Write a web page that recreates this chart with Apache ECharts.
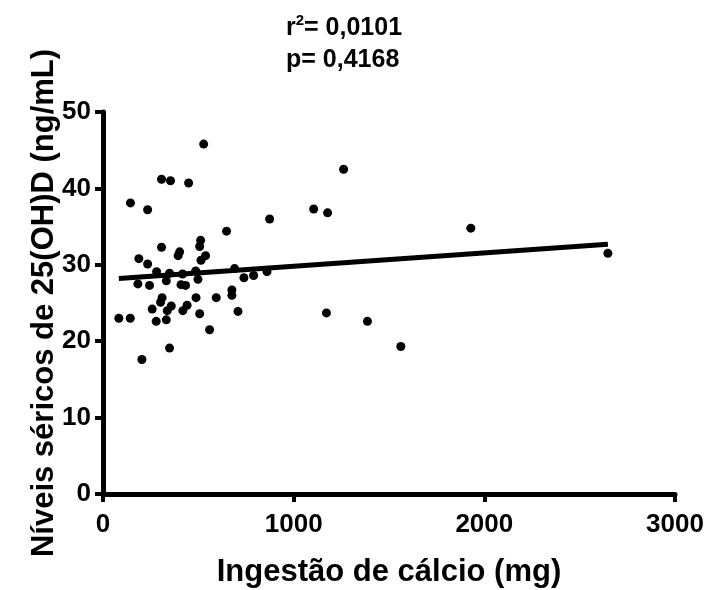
<!DOCTYPE html>
<html>
<head>
<meta charset="utf-8">
<script src="https://cdn.jsdelivr.net/npm/echarts@6/dist/echarts.min.js"></script>
<style>
html,body{margin:0;padding:0;background:#fff;}
#chart{width:710px;height:590px;}
</style>
</head>
<body>
<div id="chart"></div>
<script>
// Calcium intake (mg) and serum 25(OH)D (ng/mL)
const calcium = [528, 307, 354, 449, 144, 234, 874, 648, 1262, 1105, 1178, 1929, 2648,
  307, 402, 394, 512, 507, 538, 514, 188, 234, 281, 349, 417, 486, 690,
  183, 244, 332, 409, 433, 498, 739, 790, 860, 676, 676, 310, 302, 358, 258, 337,
  441, 419, 488, 594, 507, 708, 83, 143, 279, 332, 559, 349, 204, 1172, 1387, 1562];
const vitaminD = [45.8, 41.2, 41.0, 40.7, 38.1, 37.2, 36.0, 34.4, 42.5, 37.3, 36.8, 34.8, 31.5,
  32.3, 31.7, 31.2, 33.2, 32.4, 31.2, 30.6, 30.8, 30.1, 29.1, 28.9, 28.8, 29.2, 29.5,
  27.5, 27.3, 27.9, 27.4, 27.3, 28.1, 28.3, 28.6, 29.1, 26.7, 26.0, 25.7, 25.1, 24.6, 24.2, 24.0,
  24.7, 24.0, 25.7, 25.7, 23.6, 23.9, 23.0, 23.0, 22.6, 22.8, 21.5, 19.1, 17.6, 23.7, 22.6, 19.3];
// Regression line end points
const fitX = [83, 2648];
const fitY = [28.2, 32.7];
const xTicks = [0, 1000, 2000, 3000];
const yTicks = [0, 10, 20, 30, 40, 50];
const r2Text = '0,0101';
const pText = '0,4168';
const xTitle = 'Ingestão de cálcio (mg)';
const yTitle = 'Níveis séricos de 25(OH)D (ng/mL)';

const font = '"Liberation Sans", Arial, Helvetica, sans-serif';
const points = calcium.map((c, i) => [c, vitaminD[i]]);
const fitLine = fitX.map((x, i) => [x, fitY[i]]);

const chart = echarts.init(document.getElementById('chart'), null, {renderer: 'canvas'});
chart.setOption({
  animation: false,
  backgroundColor: '#fff',
  title: {
    text: '{b|r}{s|2}{b|= ' + r2Text + '}\n{b|p= ' + pText + '}',
    left: 286,
    top: 12,
    padding: 0,
    textStyle: {
      fontFamily: font, fontWeight: 'bold', fontSize: 25, color: '#000', lineHeight: 32,
      rich: {
        b: {fontFamily: font, fontWeight: 'bold', fontSize: 25, color: '#000', lineHeight: 32},
        s: {fontFamily: font, fontWeight: 'bold', fontSize: 15, color: '#000', lineHeight: 32,
            verticalAlign: 'top', padding: [1, 0, 0, 0]}
      }
    }
  },
  grid: {left: 103, top: 112, width: 572, height: 382, containLabel: false, outerBoundsMode: 'none'},
  xAxis: {
    type: 'value', min: 0, max: 3000, interval: 1000,
    name: xTitle, nameLocation: 'middle', nameGap: 63, nameMoveOverlap: false,
    nameTextStyle: {fontFamily: font, fontWeight: 'bold', fontSize: 31, color: '#000'},
    axisLine: {show: true, onZero: false, lineStyle: {color: '#000', width: 5}},
    axisTick: {show: true, length: 8, lineStyle: {color: '#000', width: 4}},
    axisLabel: {fontFamily: font, fontWeight: 'bold', fontSize: 26, color: '#000', margin: 18,
      formatter: v => xTicks.includes(v) ? String(v) : ''},
    splitLine: {show: false}
  },
  yAxis: {
    type: 'value', min: 0, max: 50, interval: 10,
    name: yTitle, nameLocation: 'middle', nameGap: 43, nameMoveOverlap: false,
    nameTextStyle: {fontFamily: font, fontWeight: 'bold', fontSize: 31, color: '#000'},
    axisLine: {show: true, onZero: false, lineStyle: {color: '#000', width: 5}},
    axisTick: {show: true, length: 8, lineStyle: {color: '#000', width: 4}},
    axisLabel: {fontFamily: font, fontWeight: 'bold', fontSize: 26, color: '#000', margin: 12,
      formatter: v => yTicks.includes(v) ? String(v) : ''},
    splitLine: {show: false}
  },
  series: [
    {
      type: 'scatter', data: points, symbol: 'circle', symbolSize: 9,
      itemStyle: {color: '#000', opacity: 1}, z: 3
    },
    {
      type: 'line', data: fitLine, showSymbol: false, symbol: 'none',
      lineStyle: {color: '#000', width: 5}, z: 2
    }
  ]
});
</script>
</body>
</html>
